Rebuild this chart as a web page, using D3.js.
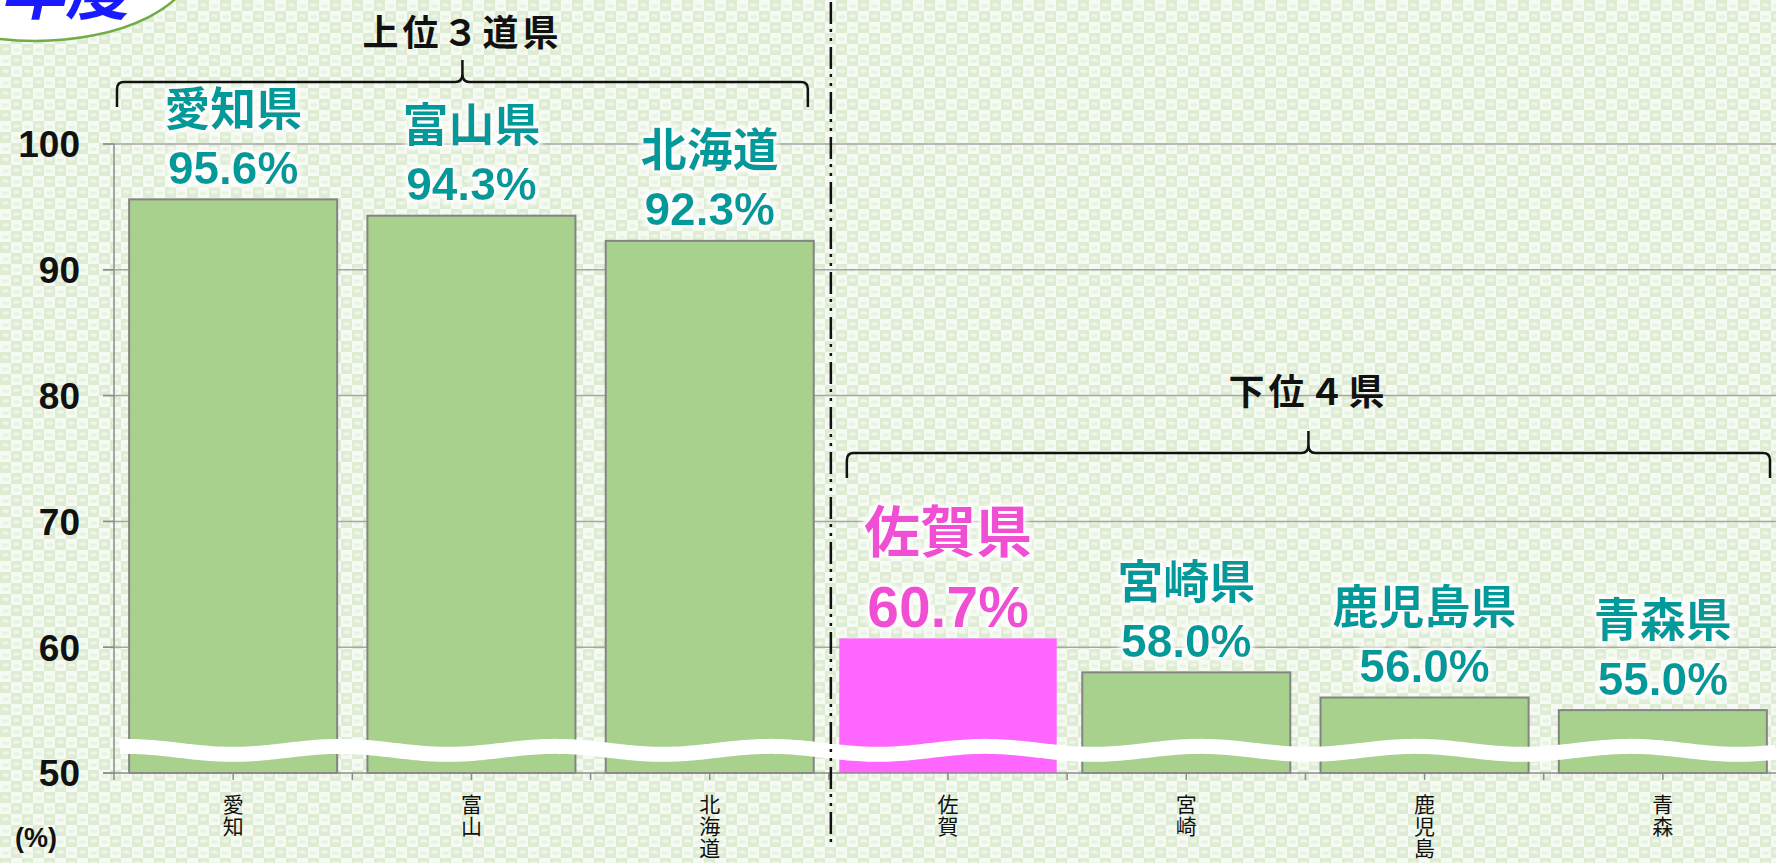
<!DOCTYPE html>
<html>
<head>
<meta charset="utf-8">
<script src="https://cdn.jsdelivr.net/npm/d3@7"></script>
<style>
  html, body { margin: 0; padding: 0; background: #f4f9f1; overflow: hidden; }
  svg { display: block; }
</style>
</head>
<body>
<svg id="chart"></svg>
<script>
// chart size
var width = 1776;
var height = 863;

// data
var categories = ['愛知', '富山', '北海道', '佐賀', '宮崎', '鹿児島', '青森'];
var prefNames = ['愛知県', '富山県', '北海道', '佐賀県', '宮崎県', '鹿児島県', '青森県'];
var rates = [95.6, 94.3, 92.3, 60.7, 58.0, 56.0, 55.0];
var highlighted = '佐賀';
var yTicks = [50, 60, 70, 80, 90, 100];
var groupTitles = ['上位３道県', '下位４県'];
var groupMembers = [['愛知', '富山', '北海道'], ['佐賀', '宮崎', '鹿児島', '青森']];
var unitLabel = '(%)';
var badgeText = '年度';

var teal = '#069a9a';
var pinkText = '#f04fd3';
var numFont = '"Liberation Sans", Arial, sans-serif';
var jpFont = '"Noto Sans CJK JP", "Noto Sans", sans-serif';

var svg = d3.select('#chart')
  .attr('width', width)
  .attr('height', height);

var defs = svg.append('defs');

// checkered background like the slide
var pat = defs.append('pattern')
  .attr('id', 'checks')
  .attr('width', 22).attr('height', 22)
  .attr('patternUnits', 'userSpaceOnUse');
pat.append('rect').attr('width', 22).attr('height', 22).attr('fill', '#f5faf2');
[[0, 0], [11, 11]].forEach(function(p) {
  pat.append('rect').attr('x', p[0]).attr('y', p[1]).attr('width', 11).attr('height', 11).attr('fill', '#deecd3');
  pat.append('ellipse').attr('cx', p[0] + 5.5).attr('cy', p[1] + 5).attr('rx', 3.5).attr('ry', 1.8).attr('fill', '#eef6e9');
});
[[11, 0], [0, 11]].forEach(function(p) {
  pat.append('ellipse').attr('cx', p[0] + 5.5).attr('cy', p[1] + 6).attr('rx', 3.5).attr('ry', 1.8).attr('fill', '#e9f3e3');
});

// white halo behind labels
var glow = defs.append('filter').attr('id', 'glow')
  .attr('x', '-20%').attr('y', '-40%').attr('width', '140%').attr('height', '180%');
glow.append('feMorphology').attr('in', 'SourceAlpha').attr('operator', 'dilate').attr('radius', 3).attr('result', 'd');
glow.append('feGaussianBlur').attr('in', 'd').attr('stdDeviation', 2.5).attr('result', 'b');
glow.append('feFlood').attr('flood-color', '#ffffff');
glow.append('feComposite').attr('in2', 'b').attr('operator', 'in').attr('result', 'g');
var merge = glow.append('feMerge');
merge.append('feMergeNode').attr('in', 'g');
merge.append('feMergeNode').attr('in', 'SourceGraphic');

svg.append('rect').attr('width', width).attr('height', height).attr('fill', 'url(#checks)');

// scales
var x = d3.scaleBand()
  .domain(categories)
  .range([114, 1782]);

var y = d3.scaleLinear()
  .domain([50, 100])
  .range([773, 144]);

var bw = x.bandwidth();
var barW = bw * 0.873;

// gridlines
svg.append('g')
  .selectAll('line')
  .data(yTicks.slice(1))
  .enter()
  .append('line')
    .attr('x1', 103).attr('x2', width)
    .attr('y1', d => y(d)).attr('y2', d => y(d))
    .attr('stroke', '#a6a6a6')
    .attr('stroke-width', 1.5);

// bars
var data = categories.map((c, i) => ({ cat: c, name: prefNames[i], value: rates[i] }));

svg.append('g')
  .selectAll('rect')
  .data(data)
  .enter()
  .append('rect')
    .attr('x', d => d.cat === highlighted ? x(d.cat) + (bw - barW * 1.045) / 2 : x(d.cat) + (bw - barW) / 2)
    .attr('width', d => d.cat === highlighted ? barW * 1.045 : barW)
    .attr('y', d => y(d.value))
    .attr('height', d => y(50) - y(d.value))
    .attr('fill', d => d.cat === highlighted ? '#ff66ff' : '#a9d18e')
    .attr('stroke', d => d.cat === highlighted ? 'none' : '#848484')
    .attr('stroke-width', 2);

// axes
var yAxis = svg.append('g');
yAxis.append('line')
  .attr('x1', 114).attr('x2', 114)
  .attr('y1', y(100)).attr('y2', y(50))
  .attr('stroke', '#8c8c8c').attr('stroke-width', 1.5);
yAxis.selectAll('line.tick')
  .data(yTicks)
  .enter()
  .append('line')
    .attr('class', 'tick')
    .attr('x1', 103).attr('x2', 114)
    .attr('y1', d => y(d)).attr('y2', d => y(d))
    .attr('stroke', '#8c8c8c').attr('stroke-width', 1.5);
yAxis.selectAll('text')
  .data(yTicks)
  .enter()
  .append('text')
    .attr('x', 80)
    .attr('y', d => y(d))
    .attr('dy', '0.36em')
    .attr('text-anchor', 'end')
    .attr('font-family', numFont)
    .attr('font-weight', 'bold')
    .attr('font-size', 37)
    .attr('fill', '#111')
    .text(d => d);

svg.append('text')
  .attr('x', 15).attr('y', 847)
  .attr('font-family', numFont)
  .attr('font-weight', 'bold')
  .attr('font-size', 27)
  .attr('fill', '#111')
  .text(unitLabel);

var xAxis = svg.append('g');
xAxis.append('line')
  .attr('x1', 103).attr('x2', width)
  .attr('y1', y(50)).attr('y2', y(50))
  .attr('stroke', '#8c8c8c').attr('stroke-width', 1.5);
var tickXs = [];
categories.forEach(function(c) { tickXs.push(x(c)); tickXs.push(x(c) + bw / 2); });
xAxis.selectAll('line.tick')
  .data(tickXs)
  .enter()
  .append('line')
    .attr('x1', d => d).attr('x2', d => d)
    .attr('y1', y(50)).attr('y2', y(50) + 7)
    .attr('stroke', '#8c8c8c').attr('stroke-width', 1.5);

// vertical category labels (tategaki)
xAxis.selectAll('text.cat')
  .data(categories)
  .enter()
  .append('text')
    .attr('class', 'cat')
    .attr('x', d => x(d) + bw / 2)
    .attr('y', 794)
    .attr('writing-mode', 'vertical-rl')
    .attr('text-orientation', 'upright')
    .attr('letter-spacing', 1)
    .attr('font-family', jpFont)
    .attr('font-size', 21)
    .attr('fill', '#111')
    .text(d => d);

// broken-axis wave
var wavePts = d3.range(120, width + 4, 4).map(px => [px, y(51.8) + 4 * Math.cos(2 * Math.PI * (px - 233) / 215)]);
svg.append('path')
  .attr('d', d3.line().curve(d3.curveBasis)(wavePts))
  .attr('fill', 'none')
  .attr('stroke', '#ffffff')
  .attr('stroke-width', 15);

// separator between groups
var sepX = x(groupMembers[1][0]) + 2;
svg.append('line')
  .attr('x1', sepX).attr('x2', sepX)
  .attr('y1', 2).attr('y2', 843)
  .attr('stroke', '#111')
  .attr('stroke-width', 2.5)
  .attr('stroke-dasharray', '22,5,3,6,3,6');

// value labels
var labels = svg.append('g').attr('filter', 'url(#glow)');
labels.selectAll('text.val')
  .data(data)
  .enter()
  .append('text')
    .attr('class', 'val')
    .attr('x', d => x(d.cat) + bw / 2)
    .attr('y', d => y(d.value) - 32)
    .attr('dy', '0.36em')
    .attr('text-anchor', 'middle')
    .attr('font-family', numFont)
    .attr('font-weight', 'bold')
    .attr('font-size', d => d.cat === highlighted ? 57 : 46)
    .attr('fill', d => d.cat === highlighted ? pinkText : teal)
    .text(d => d.value.toFixed(1) + '%');
labels.selectAll('text.name')
  .data(data)
  .enter()
  .append('text')
    .attr('class', 'name')
    .attr('x', d => x(d.cat) + bw / 2)
    .attr('y', d => y(d.value) - 32 - (d.cat === highlighted ? 76 : 60))
    .attr('dy', '0.38em')
    .attr('text-anchor', 'middle')
    .attr('font-family', jpFont)
    .attr('font-weight', 'bold')
    .attr('font-size', d => d.cat === highlighted ? 56 : 46)
    .attr('fill', d => d.cat === highlighted ? pinkText : teal)
    .text(d => d.name);

// group braces with titles
var braceY = [82, 453];
var titleY = [32, 391];
groupMembers.forEach(function(members, gi) {
  var x0 = x(members[0]) + (gi === 0 ? 3 : 18);
  var x1 = x(members[members.length - 1]) + bw - (gi === 0 ? 21 : 12);
  var xm = (x0 + x1) / 2;
  var by = braceY[gi];
  var p = d3.path();
  p.moveTo(x0, by + 25);
  p.lineTo(x0, by + 7);
  p.quadraticCurveTo(x0, by, x0 + 7, by);
  p.lineTo(xm - 7, by);
  p.quadraticCurveTo(xm, by, xm, by - 8);
  p.lineTo(xm, by - 22);
  p.moveTo(xm, by - 8);
  p.quadraticCurveTo(xm, by, xm + 7, by);
  p.lineTo(x1 - 7, by);
  p.quadraticCurveTo(x1, by, x1, by + 7);
  p.lineTo(x1, by + 25);
  svg.append('path')
    .attr('d', p.toString())
    .attr('fill', 'none')
    .attr('stroke', '#111')
    .attr('stroke-width', 2.5);
  svg.append('text')
    .attr('x', xm)
    .attr('y', titleY[gi])
    .attr('dy', '0.38em')
    .attr('text-anchor', 'middle')
    .attr('font-family', jpFont)
    .attr('font-weight', 'bold')
    .attr('font-size', 36)
    .attr('letter-spacing', 4)
    .attr('fill', '#111')
    .text(groupTitles[gi]);
});

// cut-off badge in the corner
svg.append('ellipse')
  .attr('cx', 35).attr('cy', -40)
  .attr('rx', 160).attr('ry', 81)
  .attr('fill', '#ffffff')
  .attr('stroke', '#70ad47')
  .attr('stroke-width', 2.5);
svg.append('text')
  .attr('x', 4).attr('y', 14)
  .attr('font-family', jpFont)
  .attr('font-weight', 'bold')
  .attr('font-size', 64)
  .attr('fill', '#1a1aff')
  .attr('transform', 'skewX(-12)')
  .text(badgeText);
</script>
</body>
</html>
